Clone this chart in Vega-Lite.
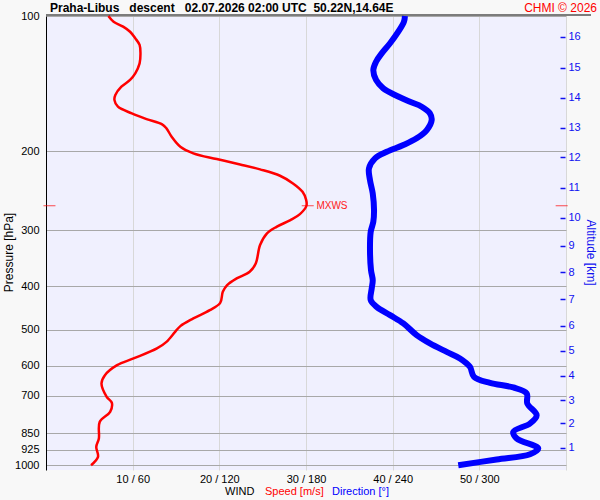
{
  "$schema": "https://vega.github.io/schema/vega-lite/v6.json",
  "width": 520,
  "height": 454,
  "autosize": "none",
  "padding": {"left": 46, "top": 16, "right": 34, "bottom": 30},
  "background": "#f8f8f8",
  "config": {
    "font": "Liberation Sans",
    "view": {"fill": "#f0f0fe", "stroke": null}
  },
  "datasets": {
    "speed": [
      {"p": 100, "s": 7.2}, {"p": 103, "s": 7.8}, {"p": 105.6, "s": 8.9}, {"p": 108.4, "s": 9.7},
      {"p": 112.1, "s": 10.3}, {"p": 116, "s": 10.8}, {"p": 121.1, "s": 10.9}, {"p": 127.5, "s": 10.8},
      {"p": 134.2, "s": 10.3}, {"p": 138.8, "s": 9.7}, {"p": 143.7, "s": 8.7}, {"p": 149.9, "s": 8.0},
      {"p": 153.9, "s": 7.9}, {"p": 159.2, "s": 8.3}, {"p": 164.7, "s": 9.9}, {"p": 169.6, "s": 11.6},
      {"p": 174.3, "s": 13.4}, {"p": 177.9, "s": 13.9}, {"p": 185.7, "s": 14.5}, {"p": 195.5, "s": 15.5},
      {"p": 202.2, "s": 17.0}, {"p": 208.2, "s": 19.7}, {"p": 214, "s": 22.4}, {"p": 219.5, "s": 24.7},
      {"p": 226.8, "s": 27.0}, {"p": 235.9, "s": 28.5}, {"p": 246.3, "s": 29.6}, {"p": 256, "s": 30.0},
      {"p": 264.5, "s": 30.05}, {"p": 276.1, "s": 29.3}, {"p": 284.7, "s": 28.2}, {"p": 294.7, "s": 26.6},
      {"p": 304.8, "s": 25.5}, {"p": 323.6, "s": 24.7}, {"p": 355.5, "s": 24.2}, {"p": 371.1, "s": 23.5},
      {"p": 383.9, "s": 22.0}, {"p": 397.3, "s": 20.9}, {"p": 411.2, "s": 20.4}, {"p": 435.1, "s": 20.1},
      {"p": 451.7, "s": 18.9}, {"p": 471.3, "s": 17.0}, {"p": 490.2, "s": 15.5}, {"p": 504.8, "s": 14.9},
      {"p": 531.3, "s": 13.9}, {"p": 549.6, "s": 12.8}, {"p": 578.6, "s": 10.1}, {"p": 598.8, "s": 8.2},
      {"p": 630.3, "s": 6.8}, {"p": 657.8, "s": 6.4}, {"p": 704.5, "s": 7.0}, {"p": 726.5, "s": 7.6},
      {"p": 760.8, "s": 7.4}, {"p": 800.9, "s": 6.2}, {"p": 872.2, "s": 6.1}, {"p": 910.6, "s": 5.8},
      {"p": 958.3, "s": 6.0}, {"p": 1000, "s": 5.2}
    ],
    "dir": [
      {"p": 100, "d": 248.5}, {"p": 103, "d": 247.8}, {"p": 108.4, "d": 243.9}, {"p": 115, "d": 238.2},
      {"p": 121.1, "d": 232.4}, {"p": 126.4, "d": 228.5}, {"p": 131.9, "d": 226.6}, {"p": 138.8, "d": 228.5},
      {"p": 144.9, "d": 233.5}, {"p": 149.9, "d": 241.6}, {"p": 155.2, "d": 252.0}, {"p": 159.2, "d": 260.1},
      {"p": 164.7, "d": 265.8}, {"p": 170.5, "d": 267.0}, {"p": 179.4, "d": 263.6}, {"p": 187.2, "d": 256.6},
      {"p": 193.8, "d": 247.4}, {"p": 200.6, "d": 235.9}, {"p": 207.5, "d": 227.8}, {"p": 218.4, "d": 223.6},
      {"p": 231.9, "d": 224.3}, {"p": 248.3, "d": 226.2}, {"p": 270.5, "d": 227.1}, {"p": 287.2, "d": 226.6},
      {"p": 302.3, "d": 224.8}, {"p": 332, "d": 224.3}, {"p": 367.9, "d": 225.0}, {"p": 387.3, "d": 226.2},
      {"p": 404.1, "d": 225.5}, {"p": 429.1, "d": 224.8}, {"p": 444.1, "d": 228.9}, {"p": 463.4, "d": 238.2},
      {"p": 483.5, "d": 247.4}, {"p": 513.4, "d": 256.6}, {"p": 535.7, "d": 265.8}, {"p": 559.5, "d": 277.4},
      {"p": 578.6, "d": 286.6}, {"p": 604, "d": 293.5}, {"p": 635.8, "d": 296.3}, {"p": 655.7, "d": 307.4},
      {"p": 671.4, "d": 323.5}, {"p": 692.3, "d": 332.8}, {"p": 728.8, "d": 333.2}, {"p": 773.8, "d": 339.7},
      {"p": 807.5, "d": 335.1}, {"p": 843.2, "d": 323.5}, {"p": 872.2, "d": 325.9}, {"p": 917.9, "d": 340.8},
      {"p": 945.2, "d": 335.1}, {"p": 971.2, "d": 312.0}, {"p": 1000, "d": 285.4}
    ],
    "mxws": [
      {"p": 264.5, "s": 0.4}, {"p": 264.5, "s": 30.2}, {"p": 264.5, "s": 59.5}
    ],
    "one": [{}]
  },
  "layer": [
    {
      "data": {"name": "speed"},
      "mark": {"type": "line", "color": "#ff0000", "strokeWidth": 2.5, "interpolate": "catmull-rom"},
      "encoding": {
        "x": {
          "field": "s", "type": "quantitative",
          "scale": {"domain": [0, 60], "nice": false, "zero": false},
          "axis": {
            "orient": "bottom", "values": [10, 20, 30, 40, 50, 60],
            "labelExpr": "datum.value < 60 ? datum.value + ' / ' + datum.value * 6 : ''",
            "grid": true, "gridColor": "#d8d8d8", "domain": false, "ticks": false,
            "labelFontSize": 11, "labelColor": "#000000", "labelPadding": 3, "labelFlush": false,
            "title": null
          }
        },
        "y": {
          "field": "p", "type": "quantitative",
          "scale": {"type": "log", "domain": [100, 1025], "reverse": true, "nice": false},
          "axis": {
            "orient": "left", "values": [100, 200, 300, 400, 500, 600, 700, 850, 925, 1000],
            "format": "d",
            "grid": true, "gridColor": "#a8a8a8", "domain": true, "domainColor": "#000000",
            "ticks": false, "labelFontSize": 11, "labelColor": "#000000", "labelPadding": 7,
            "title": "Pressure [hPa]", "titleFontSize": 12, "titleFontWeight": "normal",
            "titleColor": "#000000", "titleX": -38, "titleY": 236, "titleAngle": -90,
            "titleAlign": "center", "titleBaseline": "middle"
          }
        },
        "order": {"field": "p", "type": "quantitative"}
      }
    },
    {
      "data": {"name": "dir"},
      "mark": {"type": "line", "color": "#0000ff", "strokeWidth": 6, "interpolate": "catmull-rom"},
      "encoding": {
        "x": {
          "field": "d", "type": "quantitative",
          "scale": {"domain": [0, 360], "nice": false, "zero": false},
          "axis": null
        },
        "y": {
          "field": "p", "type": "quantitative",
          "scale": {"type": "log", "domain": [100, 1025], "reverse": true, "nice": false},
          "axis": {
            "orient": "right",
            "values": [111.2, 130.3, 152, 177.3, 206.4, 241.3, 281.4, 324.8, 372.3, 427.6, 489.5, 556.6, 632.6, 716.6, 807.5, 915.1],
            "labelExpr": "16 - indexof([111.2, 130.3, 152, 177.3, 206.4, 241.3, 281.4, 324.8, 372.3, 427.6, 489.5, 556.6, 632.6, 716.6, 807.5, 915.1], datum.value)",
            "grid": false, "domain": false, "offset": -6,
            "ticks": true, "tickSize": 5, "tickColor": "#1010f0", "tickWidth": 1.5,
            "labelFontSize": 11, "labelColor": "#1010f0", "labelPadding": 3,
            "title": "Altitude [km]", "titleFontSize": 12, "titleFontWeight": "normal",
            "titleColor": "#1010f0", "titleX": 30, "titleY": 236, "titleAngle": 90,
            "titleAlign": "center", "titleBaseline": "middle"
          }
        },
        "order": {"field": "p", "type": "quantitative"}
      }
    },
    {
      "data": {"name": "one"},
      "mark": {"type": "rule", "color": "#000000", "strokeWidth": 1, "x2Offset": 25, "yOffset": -1},
      "encoding": {
        "x": {"datum": 0, "type": "quantitative", "scale": {"domain": [0, 60], "nice": false}, "axis": null},
        "x2": {"datum": 60},
        "y": {"datum": 100, "type": "quantitative", "scale": {"type": "log", "domain": [100, 1025], "reverse": true, "nice": false}, "axis": null}
      }
    },
    {
      "data": {"name": "mxws"},
      "mark": {"type": "tick", "orient": "horizontal", "color": "#ff0000", "size": 12, "thickness": 1},
      "encoding": {
        "x": {"field": "s", "type": "quantitative", "scale": {"domain": [0, 60], "nice": false}, "axis": null},
        "y": {"field": "p", "type": "quantitative", "scale": {"type": "log", "domain": [100, 1025], "reverse": true, "nice": false}, "axis": null}
      }
    },
    {
      "data": {"name": "one"},
      "mark": {"type": "text", "text": "MXWS", "color": "#ff2020", "fontSize": 10, "align": "left", "baseline": "middle", "dx": 10},
      "encoding": {
        "x": {"datum": 30.05, "type": "quantitative", "scale": {"domain": [0, 60], "nice": false}, "axis": null},
        "y": {"datum": 264.5, "type": "quantitative", "scale": {"type": "log", "domain": [100, 1025], "reverse": true, "nice": false}, "axis": null}
      }
    },
    {
      "data": {"name": "one"},
      "mark": {"type": "text", "text": "Praha-Libus\u00a0\u00a0 descent\u00a0\u00a0 02.07.2026 02:00 UTC\u00a0 50.22N,14.64E", "color": "#000000", "fontSize": 12, "fontWeight": "bold", "align": "left", "baseline": "middle", "dx": 4, "dy": -8},
      "encoding": {
        "x": {"datum": 0, "type": "quantitative", "scale": {"domain": [0, 60], "nice": false}, "axis": null},
        "y": {"datum": 100, "type": "quantitative", "scale": {"type": "log", "domain": [100, 1025], "reverse": true, "nice": false}, "axis": null}
      }
    },
    {
      "data": {"name": "one"},
      "mark": {"type": "text", "text": "CHMI \u00a9 2026", "color": "#ff0000", "fontSize": 12, "align": "right", "baseline": "middle", "dx": 31, "dy": -8},
      "encoding": {
        "x": {"datum": 60, "type": "quantitative", "scale": {"domain": [0, 60], "nice": false}, "axis": null},
        "y": {"datum": 100, "type": "quantitative", "scale": {"type": "log", "domain": [100, 1025], "reverse": true, "nice": false}, "axis": null}
      }
    },
    {
      "data": {"name": "one"},
      "mark": {"type": "text", "text": "WIND", "color": "#000000", "fontSize": 11, "align": "left", "baseline": "middle", "dx": -81, "dy": 22},
      "encoding": {
        "x": {"datum": 30, "type": "quantitative", "scale": {"domain": [0, 60], "nice": false}, "axis": null},
        "y": {"datum": 1025, "type": "quantitative", "scale": {"type": "log", "domain": [100, 1025], "reverse": true, "nice": false}, "axis": null}
      }
    },
    {
      "data": {"name": "one"},
      "mark": {"type": "text", "text": "Speed [m/s]", "color": "#ff0000", "fontSize": 11, "align": "left", "baseline": "middle", "dx": -41, "dy": 22},
      "encoding": {
        "x": {"datum": 30, "type": "quantitative", "scale": {"domain": [0, 60], "nice": false}, "axis": null},
        "y": {"datum": 1025, "type": "quantitative", "scale": {"type": "log", "domain": [100, 1025], "reverse": true, "nice": false}, "axis": null}
      }
    },
    {
      "data": {"name": "one"},
      "mark": {"type": "text", "text": "Direction [\u00b0]", "color": "#0000ff", "fontSize": 11, "align": "left", "baseline": "middle", "dx": 26, "dy": 22},
      "encoding": {
        "x": {"datum": 30, "type": "quantitative", "scale": {"domain": [0, 60], "nice": false}, "axis": null},
        "y": {"datum": 1025, "type": "quantitative", "scale": {"type": "log", "domain": [100, 1025], "reverse": true, "nice": false}, "axis": null}
      }
    }
  ],
  "resolve": {
    "scale": {"x": "independent"},
    "axis": {"x": "independent", "y": "independent"}
  }
}
